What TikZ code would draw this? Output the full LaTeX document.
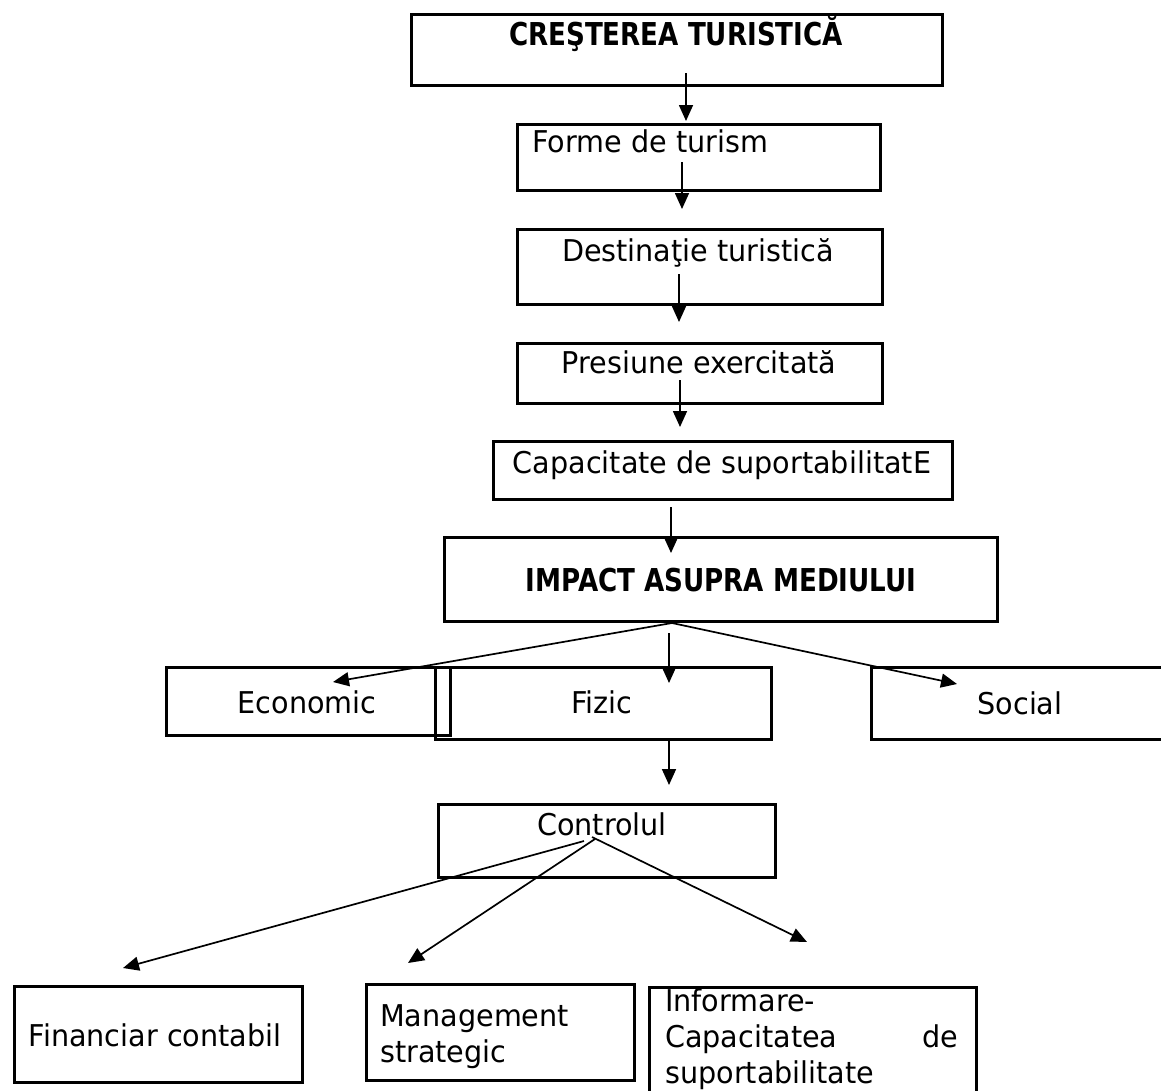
\documentclass[tikz,border=0pt]{standalone}
\usepackage{fontspec}
\setmainfont{DejaVu Sans}[FakeStretch=0.955]
\newfontfamily\boldfam{DejaVu Sans}[FakeStretch=0.83]
\usetikzlibrary{arrows.meta}
\begin{document}
\begin{tikzpicture}[x=1pt,y=-1pt,
  box/.style={draw, line width=2.5pt, rectangle, inner sep=0pt, anchor=north west},
  txt/.style={inner sep=0pt, font=\fontsize{30pt}{36.5pt}\selectfont},
  btxt/.style={inner sep=0pt, font=\boldfam\bfseries\fontsize{31.5pt}{36pt}\selectfont},
  arr/.style={line width=1.7pt, -{Triangle[length=16pt,width=14pt]}}]
\useasboundingbox (0,0) rectangle (1161,1090);
\clip (0,0) rectangle (1161,1090);
% boxes
\node[box, minimum width=531pt, minimum height=71pt] (b1) at (410,13) {};
\node[box, minimum width=363pt, minimum height=66pt] (b2) at (516,123) {};
\node[box, minimum width=365pt, minimum height=75pt] (b3) at (516,228) {};
\node[box, minimum width=365pt, minimum height=60pt] (b4) at (516,342) {};
\node[box, minimum width=459pt, minimum height=58pt] (b5) at (492,440) {};
\node[box, minimum width=553pt, minimum height=84pt] (b6) at (443,536) {};
\node[box, minimum width=284pt, minimum height=68pt] (beco) at (165,666) {};
\node[box, minimum width=336pt, minimum height=72pt] (bfiz) at (434,666) {};
\node[box, minimum width=295pt, minimum height=72pt] (bsoc) at (870,666) {};
\node[box, minimum width=337pt, minimum height=73pt] (bctl) at (437,803) {};
\node[box, minimum width=288pt, minimum height=96pt] (bfin) at (13,985) {};
\node[box, minimum width=268pt, minimum height=96pt] (bman) at (365,983) {};
\node[box, minimum width=327pt, minimum height=120pt] (binf) at (648,986) {};
% texts
\node[btxt, anchor=base] (t1) at (676,45) {CREŞTEREA TURISTICĂ};
\node[txt, anchor=base west] (t2) at (532,152) {Forme de turism};
\node[txt, anchor=base] (t3) at (698,261) {Destinaţie turistică};
\node[txt, anchor=base] (t4) at (699,373) {Presiune exercitată};
\node[txt, anchor=base] (t5) at (722,473) {Capacitate de suportabilitatE};
\node[btxt, anchor=base] (t6) at (721,591) {IMPACT ASUPRA MEDIULUI};
\node[txt, anchor=base] (teco) at (307,713) {Economic};
\node[txt, anchor=base] (tfiz) at (602,713) {Fizic};
\node[txt, anchor=base] (tsoc) at (1020,714) {Social};
\node[txt, anchor=base] (tctl) at (602,835) {Controlul};
\node[txt, anchor=base] (tfin) at (155,1046) {Financiar contabil};
\node[txt, anchor=base west] (tman1) at (380,1026) {Management};
\node[txt, anchor=base west] (tman2) at (380,1062) {strategic};
\node[txt, anchor=base west] (tinf1) at (665,1011) {Informare-};
\node[txt, anchor=base west] (tinf2) at (665,1047) {\makebox[293pt][s]{Capacitatea de}};
\node[txt, anchor=base west] (tinf3) at (665,1083) {suportabilitate};
% connector end points
\coordinate (a1s) at (686,73);  \coordinate (a1e) at (686,121);
\coordinate (a2s) at (682,162); \coordinate (a2e) at (682,209);
\coordinate (a3s) at (679,274); \coordinate (a3e) at (679,322);
\coordinate (a4s) at (680,380); \coordinate (a4e) at (680,427);
\coordinate (a5s) at (671,507); \coordinate (a5e) at (671,553);
\coordinate (split) at (672,623);
\coordinate (ecoe) at (333,682);
\coordinate (fizs) at (669,633); \coordinate (fize) at (669,683);
\coordinate (soce) at (957,684);
\coordinate (ctls) at (669,738); \coordinate (ctle) at (669,785);
\coordinate (c1s) at (584,841); \coordinate (fine) at (123,968);
\coordinate (c2s) at (595,839); \coordinate (mane) at (408,963);
\coordinate (c3s) at (592,837); \coordinate (infe) at (807,942);
% connectors
\draw[arr] (a1s) -- (a1e);
\draw[arr] (a2s) -- (a2e);
\draw[arr] (a3s) -- (a3e);
\draw[arr] (a4s) -- (a4e);
\draw[arr] (a5s) -- (a5e);
\draw[arr] (split) -- (ecoe);
\draw[arr] (fizs) -- (fize);
\draw[arr] (split) -- (soce);
\draw[arr] (ctls) -- (ctle);
\draw[arr] (c1s) -- (fine);
\draw[arr] (c2s) -- (mane);
\draw[arr] (c3s) -- (infe);
\end{tikzpicture}
\end{document}
